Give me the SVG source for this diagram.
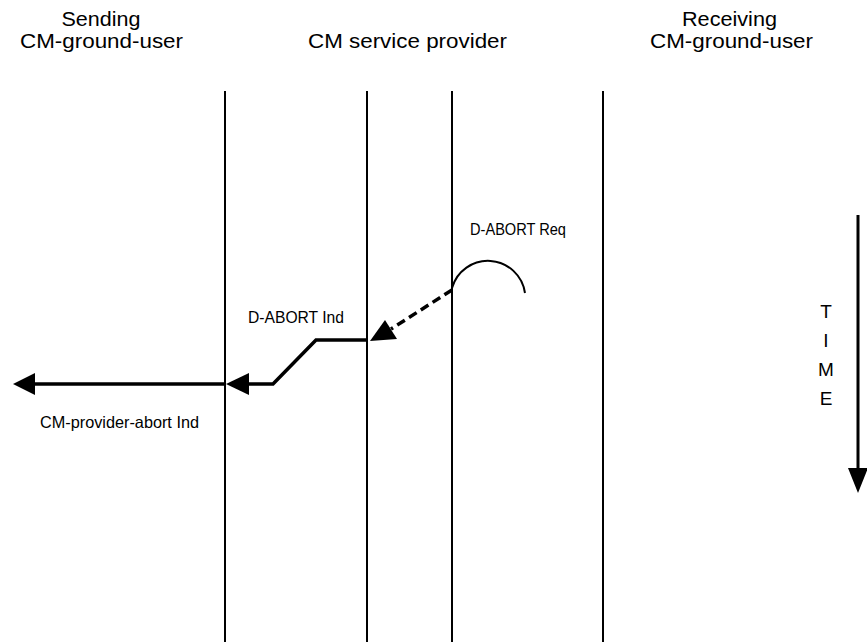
<svg xmlns="http://www.w3.org/2000/svg" width="867" height="642" viewBox="0 0 867 642">
  <style>
    text { font-family: "Liberation Sans", Arial, Helvetica, sans-serif; fill: #000; }
    .head { font-size: 19.5px; text-anchor: middle; }
    .lbl { font-size: 16.5px; text-anchor: middle; }
    .time { font-size: 19px; text-anchor: middle; }
    .life { stroke: #000; stroke-width: 2; fill: none; }
    .flow { stroke: #000; stroke-width: 3.5; fill: none; stroke-linejoin: miter; }
    .head-fill { fill: #000; stroke: none; }
  </style>

  <rect width="867" height="642" fill="#fff"/>

  <!-- column headings -->
  <g id="sending-user">
    <text class="head" x="101" y="26" textLength="79" lengthAdjust="spacingAndGlyphs">Sending</text>
    <text class="head" x="101.5" y="48" textLength="163" lengthAdjust="spacingAndGlyphs">CM-ground-user</text>
  </g>
  <g id="service-provider">
    <text class="head" x="407.5" y="48" textLength="199" lengthAdjust="spacingAndGlyphs">CM service provider</text>
  </g>
  <g id="receiving-user">
    <text class="head" x="729.5" y="26" textLength="95" lengthAdjust="spacingAndGlyphs">Receiving</text>
    <text class="head" x="731.5" y="48" textLength="163" lengthAdjust="spacingAndGlyphs">CM-ground-user</text>
  </g>

  <!-- interface lines -->
  <g id="lifelines">
    <line class="life" x1="225" y1="91" x2="225" y2="642"/>
    <line class="life" x1="367" y1="91" x2="367" y2="642"/>
    <line class="life" x1="452" y1="91" x2="452" y2="642"/>
    <line class="life" x1="603" y1="91" x2="603" y2="642"/>
  </g>

  <!-- primitives -->
  <g id="d-abort-req">
    <path class="life" d="M452,288 A37.4,37.4 0 0 1 525,293"/>
    <text class="lbl" x="518" y="235" textLength="96" lengthAdjust="spacingAndGlyphs">D-ABORT Req</text>
  </g>
  <g id="d-abort-ind">
    <text class="lbl" x="296" y="323" textLength="96" lengthAdjust="spacingAndGlyphs">D-ABORT Ind</text>
  </g>
  <g id="cm-provider-abort-ind">
    <text class="lbl" x="119.5" y="428" textLength="159" lengthAdjust="spacingAndGlyphs">CM-provider-abort Ind</text>
  </g>

  <g id="connectors">
    <!-- remote abort travelling across the provider -->
    <line class="flow" x1="452" y1="290" x2="391" y2="329" stroke-dasharray="9,5"/>
    <polygon class="head-fill" points="370,341 385,320 397,339"/>
    <!-- indication delivered to the sending user -->
    <polyline class="flow" points="367,340 316,340 273,384 245,384"/>
    <polygon class="head-fill" points="226,384 249,373 249,395"/>
    <line class="flow" x1="225" y1="384" x2="32" y2="384"/>
    <polygon class="head-fill" points="13,384 35,373 35,395"/>
  </g>

  <!-- time axis -->
  <g id="time-axis">
    <line x1="858" y1="215" x2="858" y2="472" stroke="#000" stroke-width="3"/>
    <polygon class="head-fill" points="858,493 848,468 868,468"/>
    <text class="time" x="826" y="318">T</text>
    <text class="time" x="826" y="347">I</text>
    <text class="time" x="826" y="376">M</text>
    <text class="time" x="826" y="405">E</text>
  </g>
</svg>
